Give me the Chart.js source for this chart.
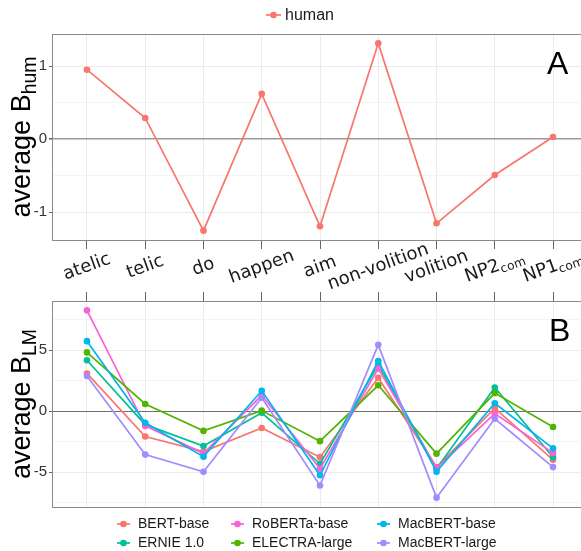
<!DOCTYPE html>
<html><head><meta charset="utf-8">
<script src="https://cdn.jsdelivr.net/npm/chart.js@4.4.1/dist/chart.umd.min.js"></script>
<style>
html,body{margin:0;padding:0;background:#fff;overflow:hidden;width:581px;height:551px;}
#wrap{position:relative;width:600px;height:551px;overflow:hidden;}
#c1{position:absolute;left:0;top:0;}
#c2{position:absolute;left:0;top:290px;}
</style></head><body>
<div id="wrap"><canvas id="c1" width="600" height="290"></canvas><canvas id="c2" width="600" height="261"></canvas></div>
<script>
// ---- data ----
const categories = ['atelic','telic','do','happen','aim','non-volition','volition','NP2','NP1'];
const categorySubs = ['','','','','','','','com','com'];
const humanValues = [0.95, 0.29, -1.25, 0.62, -1.19, 1.31, -1.15, -0.49, 0.03];
const modelNames = ['BERT-base','ERNIE 1.0','RoBERTa-base','ELECTRA-large','MacBERT-base','MacBERT-large'];
const modelColors = ['#F8766D','#00C094','#FB61D7','#53B400','#00B6EB','#A58AFF'];
const bertBase     = [3.09, -2.07, -3.30, -1.37, -3.76, 2.74, -4.57,  0.25, -3.98];
const ernie        = [4.17, -1.10, -2.85, -0.13, -4.30, 3.80, -4.70,  1.94, -3.76];
const robertaBase  = [8.25, -1.20, -3.45,  1.30, -4.70, 3.49, -4.65, -0.19, -3.41];
const electraLarge = [4.81,  0.59, -1.61,  0.05, -2.45, 2.12, -3.47,  1.48, -1.29];
const macbertBase  = [5.73, -0.95, -3.72,  1.67, -5.24, 4.11, -4.95,  0.65, -3.04];
const macbertLarge = [2.88, -3.55, -4.95,  1.10, -6.08, 5.43, -7.07, -0.62, -4.57];
const modelValues = [bertBase, ernie, robertaBase, electraLarge, macbertBase, macbertLarge];
const yTickLabelsTop = [-1, 0, 1];
const yTickLabelsBottom = [-5, 0, 5];
const humanColor = '#F8766D';

// ---- helpers ----
const SANS = '"Liberation Sans", Arial, sans-serif';
const DEJAVU = '"DejaVu Sans", sans-serif';
function expandRange(arrs){
  let mn = Infinity, mx = -Infinity;
  arrs.forEach(a => a.forEach(v => { mn = Math.min(mn, v); mx = Math.max(mx, v); }));
  const e = (mx - mn) * 0.05;
  return [mn - e, mx + e];
}
function toXY(vals){ return vals.map((v, i) => ({x: i + 1, y: v})); }
function drawSub(ctx, main, sub, x, y, size, family, subScale, shift, align){
  ctx.font = size + 'px ' + family;
  const w1 = ctx.measureText(main).width;
  let w2 = 0;
  if (sub){ ctx.font = (size * subScale) + 'px ' + family; w2 = ctx.measureText(sub).width; }
  const start = align === 'center' ? x - (w1 + w2) / 2 : x;
  ctx.textAlign = 'left';
  ctx.font = size + 'px ' + family;
  ctx.fillText(main, start, y);
  if (sub){ ctx.font = (size * subScale) + 'px ' + family; ctx.fillText(sub, start + w1, y + shift); }
}
function legendKey(ctx, x, y, color, len){
  ctx.save();
  ctx.strokeStyle = color; ctx.lineWidth = 1.7;
  ctx.beginPath(); ctx.moveTo(x, y); ctx.lineTo(x + len, y); ctx.stroke();
  ctx.fillStyle = color; ctx.beginPath(); ctx.arc(x + len / 2, y, 3.3, 0, Math.PI * 2); ctx.fill();
  ctx.restore();
}
function yScale(range, step, labels, zeroColor, zeroWidth){
  return {
    type: 'linear', min: range[0], max: range[1],
    afterFit(s){ s.width = 52; },
    border: {display: false},
    ticks: {
      stepSize: step, includeBounds: false, autoSkip: false,
      font: {family: SANS, size: 15}, color: '#333', padding: 2,
      callback: (v) => labels.some(l => Math.abs(l - v) < 1e-9) ? String(v) : ''
    },
    grid: {
      color: (c) => {
        const v = c.tick ? c.tick.value : NaN;
        if (Math.abs(v) < 1e-9) return zeroColor;
        return labels.some(l => Math.abs(l - v) < 1e-9) ? '#EBEBEB' : '#F4F4F4';
      },
      lineWidth: (c) => (c.tick && Math.abs(c.tick.value) < 1e-9) ? zeroWidth : 1,
      tickColor: (c) => (c.tick && labels.some(l => Math.abs(l - c.tick.value) < 1e-9)) ? '#666' : 'rgba(0,0,0,0)',
      tickLength: 3, drawTicks: true
    }
  };
}
function xScale(position){
  return {
    type: 'linear', min: 0.4, max: 9.6, position,
    afterFit(s){ s.height = 0; },
    border: {display: false},
    ticks: {display: false, stepSize: 1, includeBounds: false, autoSkip: false},
    grid: {color: '#EBEBEB', lineWidth: 1, tickLength: 9, tickColor: '#666', drawTicks: true}
  };
}
function borderBox(ctx, a){
  ctx.save(); ctx.strokeStyle = '#8a8a8a'; ctx.lineWidth = 1;
  ctx.strokeRect(Math.round(a.left) + 0.5, Math.round(a.top) + 0.5, Math.round(a.right - a.left), Math.round(a.bottom - a.top));
  ctx.restore();
}
function yTitle(ctx, cx, cy, sub){
  ctx.save(); ctx.translate(cx, cy); ctx.rotate(-Math.PI / 2);
  ctx.fillStyle = '#000'; ctx.textBaseline = 'alphabetic';
  drawSub(ctx, 'average B', sub, 0, 0, 27, SANS, 0.72, 6, 'center');
  ctx.restore();
}

const common = {
  responsive: false, animation: false, devicePixelRatio: 1, events: [],
  plugins: {legend: {display: false}, tooltip: {enabled: false}, title: {display: false}}
};

// ---- top chart ----
const topRange = expandRange([humanValues]);
const topPlugin = {
  id: 'topDecor',
  afterDraw(chart){
    const ctx = chart.ctx, a = chart.chartArea, xs = chart.scales.x;
    borderBox(ctx, a);
    ctx.save(); ctx.fillStyle = '#1a1a1a'; ctx.textBaseline = 'middle';
    categories.forEach((c, i) => {
      const px = xs.getPixelForValue(i + 1);
      ctx.save(); ctx.translate(px, 267); ctx.rotate(-20 * Math.PI / 180);
      drawSub(ctx, c, categorySubs[i], 0, 0, 18, DEJAVU, 0.68, 5, 'center');
      ctx.restore();
    });
    ctx.restore();
    yTitle(ctx, 30, (a.top + a.bottom) / 2, 'hum');
    ctx.save(); ctx.fillStyle = '#000'; ctx.font = '32px ' + SANS; ctx.textAlign = 'left'; ctx.textBaseline = 'alphabetic';
    ctx.fillText('A', 547, 73.5); ctx.restore();
    legendKey(ctx, 266, 15, humanColor, 15);
    ctx.save(); ctx.fillStyle = '#1a1a1a'; ctx.font = '16px ' + SANS; ctx.textBaseline = 'middle'; ctx.textAlign = 'left';
    ctx.fillText('human', 285, 15.5); ctx.restore();
  }
};
new Chart(document.getElementById('c1'), {
  type: 'line',
  data: {datasets: [{label: 'human', data: toXY(humanValues), borderColor: humanColor, backgroundColor: humanColor,
    borderWidth: 1.7, pointRadius: 3.3, pointBorderWidth: 0, pointBackgroundColor: humanColor, tension: 0, fill: false}]},
  options: Object.assign({}, common, {
    layout: {padding: {top: 34, bottom: 50, left: 0, right: 12}},
    scales: {x: xScale('bottom'), y: yScale(topRange, 0.5, yTickLabelsTop, '#9a9a9a', 1.6)}
  }),
  plugins: [topPlugin]
});

// ---- bottom chart ----
const botRange = expandRange(modelValues);
const legendCols = [117, 231, 377];
const legendRows = [234, 253];
const botPlugin = {
  id: 'botDecor',
  afterDraw(chart){
    const ctx = chart.ctx, a = chart.chartArea;
    borderBox(ctx, a);
    yTitle(ctx, 30, (a.top + a.bottom) / 2, 'LM');
    ctx.save(); ctx.fillStyle = '#000'; ctx.font = '32px ' + SANS; ctx.textAlign = 'left'; ctx.textBaseline = 'alphabetic';
    ctx.fillText('B', 549, 51); ctx.restore();
    modelNames.forEach((n, i) => {
      const col = Math.floor(i / 2), row = i % 2;
      const x = legendCols[col], y = legendRows[row];
      legendKey(ctx, x, y, modelColors[i], 13);
      ctx.save(); ctx.fillStyle = '#1a1a1a'; ctx.font = '14px ' + SANS; ctx.textBaseline = 'middle'; ctx.textAlign = 'left';
      ctx.fillText(n, x + 21, y + 0.5); ctx.restore();
    });
  }
};
new Chart(document.getElementById('c2'), {
  type: 'line',
  data: {datasets: modelNames.map((n, i) => ({
    label: n, data: toXY(modelValues[i]), borderColor: modelColors[i], backgroundColor: modelColors[i],
    borderWidth: 1.7, pointRadius: 3.3, pointBorderWidth: 0, pointBackgroundColor: modelColors[i],
    tension: 0, fill: false, order: modelNames.length - i
  }))},
  options: Object.assign({}, common, {
    layout: {padding: {top: 8, bottom: 44, left: 0, right: 12}},
    scales: {x: xScale('top'), y: yScale(botRange, 2.5, yTickLabelsBottom, '#6e6e6e', 1)}
  }),
  plugins: [botPlugin]
});
</script>
</body></html>
